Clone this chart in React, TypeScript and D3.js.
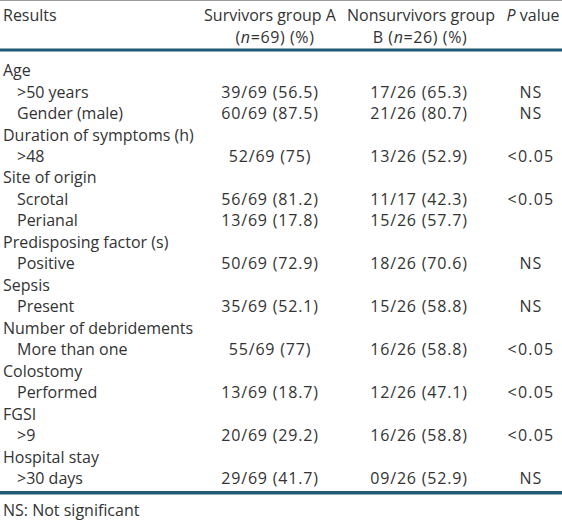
import React from "react";
import * as d3 from "d3";

const groupLabels = [
  "Age",
  "Duration of symptoms (h)",
  "Site of origin",
  "Predisposing factor (s)",
  "Sepsis",
  "Number of debridements",
  "Colostomy",
  "FGSI",
  "Hospital stay",
];
const subGroup = [0, 0, 1, 2, 2, 3, 4, 5, 6, 7, 8];
const subLabels = [
  ">50 years",
  "Gender (male)",
  ">48",
  "Scrotal",
  "Perianal",
  "Positive",
  "Present",
  "More than one",
  "Performed",
  ">9",
  ">30 days",
];
const survivorsA = [
  "39/69 (56.5)",
  "60/69 (87.5)",
  "52/69 (75)",
  "56/69 (81.2)",
  "13/69 (17.8)",
  "50/69 (72.9)",
  "35/69 (52.1)",
  "55/69 (77)",
  "13/69 (18.7)",
  "20/69 (29.2)",
  "29/69 (41.7)",
];
const nonsurvivorsB = [
  "17/26 (65.3)",
  "21/26 (80.7)",
  "13/26 (52.9)",
  "11/17 (42.3)",
  "15/26 (57.7)",
  "18/26 (70.6)",
  "15/26 (58.8)",
  "16/26 (58.8)",
  "12/26 (47.1)",
  "16/26 (58.8)",
  "09/26 (52.9)",
];
const pValues = ["NS", "NS", "<0.05", "<0.05", "", "NS", "NS", "<0.05", "<0.05", "<0.05", "NS"];
const footnote = "NS: Not significant";

type Row = { kind: "group" | "item"; label: string; a?: string; b?: string; p?: string };

const rows: Row[] = [];
groupLabels.forEach((g, gi) => {
  rows.push({ kind: "group", label: g });
  subLabels.forEach((s, i) => {
    if (subGroup[i] === gi)
      rows.push({ kind: "item", label: s, a: survivorsA[i], b: nonsurvivorsB[i], p: pValues[i] });
  });
});

const W = 562;
const H = 521;
const TEXT = "#333333";
const RULE = "#1e5a73";
const FONT = "'Open Sans', 'Noto Sans', sans-serif";
const FS = 16;

export default function App() {
  const y = d3
    .scalePoint<number>()
    .domain(rows.map((_, i) => i))
    .range([70.5, 478.5]);
  const x = d3
    .scaleOrdinal<string, number>()
    .domain(["group", "item", "a", "b", "p"])
    .range([3, 17, 270, 419, 531]);

  return (
    <svg
      width={W}
      height={H}
      style={{ position: "absolute", left: 0, top: 0, background: "#fff" }}
      fontFamily={FONT}
      fontSize={FS}
      fill={TEXT}
    >
      <rect x={0} y={0} width={W} height={H} fill="#fff" />
      <line x1={0} x2={W} y1={0.5} y2={0.5} stroke="#9a9a9a" strokeWidth={1} />
      {/* header */}
      <text x={3} y={15} dy="0.35em">Results</text>
      <text x={270} y={15} dy="0.35em" textAnchor="middle">Survivors group A</text>
      <text x={275} y={37} dy="0.35em" textAnchor="middle" letterSpacing={0.6}>
        (<tspan fontStyle="italic">n</tspan>=69) (%)
      </text>
      <text x={421} y={15} dy="0.35em" textAnchor="middle">Nonsurvivors group</text>
      <text x={420} y={37} dy="0.35em" textAnchor="middle" letterSpacing={0.6}>
        B (<tspan fontStyle="italic">n</tspan>=26) (%)
      </text>
      <text x={533} y={15} dy="0.35em" textAnchor="middle">
        <tspan fontStyle="italic">P</tspan> value
      </text>
      <rect x={0} y={48.5} width={W} height={3} fill={RULE} />
      {rows.map((r, i) => (
        <g key={i}>
          <text x={x(r.kind)} y={y(i)} dy="0.35em">{r.label}</text>
          {r.kind === "item" && (
            <>
              <text x={x("a")} y={y(i)} dy="0.35em" textAnchor="middle" letterSpacing={0.8}>{r.a}</text>
              <text x={x("b")} y={y(i)} dy="0.35em" textAnchor="middle" letterSpacing={0.8}>{r.b}</text>
              <text x={x("p")} y={y(i)} dy="0.35em" textAnchor="middle" letterSpacing={1.2}>{r.p}</text>
            </>
          )}
        </g>
      ))}
      <rect x={0} y={491} width={W} height={3.5} fill={RULE} />
      <text x={3} y={510} dy="0.35em">{footnote}</text>
    </svg>
  );
}
